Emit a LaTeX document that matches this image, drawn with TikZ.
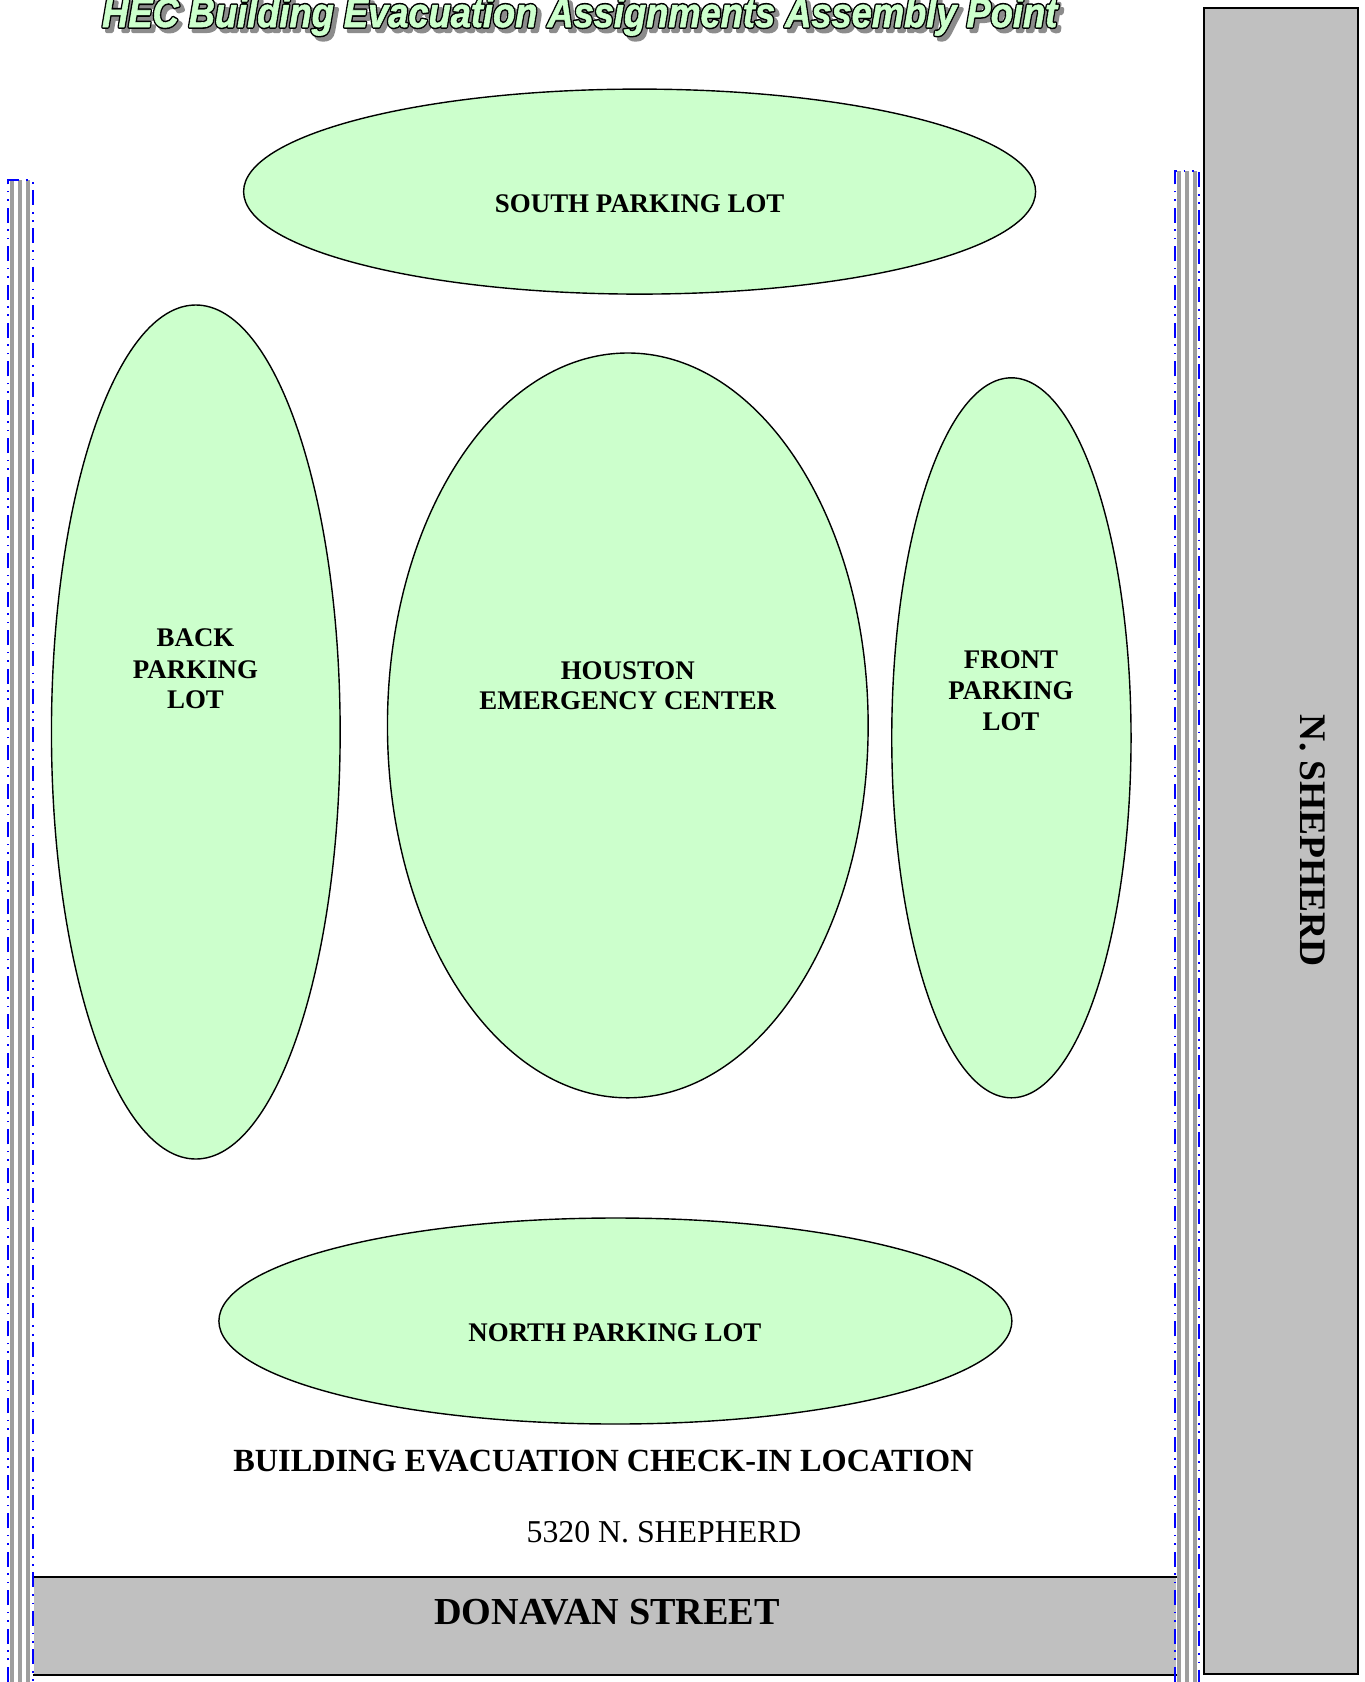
\documentclass[tikz,border=0pt]{standalone}
\usepackage{graphicx}
\usepackage{fontspec}
\setmainfont{Liberation Serif}
\newfontfamily\titlefont{Liberation Sans}
\usetikzlibrary{shapes.geometric}
\definecolor{lotgreen}{HTML}{CCFFCC}
\definecolor{roadgray}{HTML}{C0C0C0}
\definecolor{fencegray}{HTML}{9E9E9E}
\definecolor{shadowgray}{HTML}{8C8C8C}
% #1 = stroke width of the text outline (stroke colour = text colour)
\newcommand{\hectitletext}[1]{\resizebox{955pt}{30pt}{\titlefont\bfseries\itshape\fontsize{40pt}{40pt}\selectfont\special{pdf:literal direct 2 Tr #1 w 1 j}HEC Building Evacuation Assignments Assembly Point\special{pdf:literal direct 0 Tr}}}
\begin{document}
\begin{tikzpicture}[x=1pt,y=-1pt,
  lot/.style={ellipse, draw=black, line width=1.4pt, fill=lotgreen, inner sep=0pt},
  lotlabel/.style={anchor=base, inner sep=0pt, font=\bfseries\fontsize{26.9pt}{31pt}\selectfont},
  road/.style={rectangle, draw=black, line width=2pt, fill=roadgray, inner sep=0pt, anchor=north west},
  roadedge/.style={draw=black, line width=2pt},
  fenceblue/.style={draw=blue, line width=2pt, dash pattern=on 15pt off 7pt on 1.7pt off 6.7pt on 1.7pt off 6.3pt},
  fencerail/.style={draw=fencegray, line width=3.5pt},
  titlecopy/.style={anchor=base west, inner sep=0pt}]
\useasboundingbox (0,0) rectangle (1365,1682);
\fill[white] (0,0) rectangle (1365,1682);

% roads
\node[road, minimum width=154pt, minimum height=1666pt] (shepherd) at (1203,7) {};
\node[road, draw=none, minimum width=1142.3pt, minimum height=96pt] (donavan) at (32.7,1577) {};
\draw[roadedge] (donavan.north west) -- (donavan.north east);
\draw[roadedge] (donavan.south west) -- (donavan.south east);

% fences
\foreach \x [count=\i] in {12,20,28} \draw[fencerail] (\x,180) -- (\x,1682);
\draw[fenceblue] (8.3,1682) -- (8.3,180) -- (32.5,180) -- (32.5,1682);
\foreach \x [count=\i] in {1179,1187,1195} \draw[fencerail] (\x,171) -- (\x,1682);
\draw[fenceblue] (1175,1682) -- (1175,171) -- (1199,171) -- (1199,1682);

% parking lots and building
\node[lot, minimum width=792pt, minimum height=205pt] (south) at (639.6,191.6) {};
\node[lot, minimum width=288.7pt, minimum height=854pt] (back) at (195.8,732) {};
\node[lot, minimum width=480.7pt, minimum height=744.8pt] (hec) at (627.8,725.4) {};
\node[lot, minimum width=239.3pt, minimum height=720pt] (front) at (1011.4,737.8) {};
\node[lot, minimum width=793pt, minimum height=206pt] (north) at (615.4,1321) {};

% labels
\node[lotlabel] (southlbl) at (639.7,212.3) {SOUTH PARKING LOT};
\node[lotlabel] (backlbl1) at (195.5,646.7) {BACK};
\node[lotlabel] (backlbl2) at (195.5,678) {PARKING};
\node[lotlabel] (backlbl3) at (195.5,708.5) {LOT};
\node[lotlabel] (heclbl1) at (627.8,679.4) {HOUSTON};
\node[lotlabel] (heclbl2) at (627.8,709.4) {EMERGENCY CENTER};
\node[lotlabel] (frontlbl1) at (1011,668.5) {FRONT};
\node[lotlabel] (frontlbl2) at (1011,699.5) {PARKING};
\node[lotlabel] (frontlbl3) at (1011,730.5) {LOT};
\node[lotlabel] (northlbl) at (614.9,1341.5) {NORTH PARKING LOT};

\node[anchor=base, inner sep=0pt, font=\bfseries\fontsize{32.3pt}{36pt}\selectfont] (checkin) at (603.5,1471) {BUILDING EVACUATION CHECK-IN LOCATION};
\node[anchor=base, inner sep=0pt, font=\fontsize{31.8pt}{36pt}\selectfont] (address) at (664,1542) {5320 N. SHEPHERD};
\node[anchor=base, inner sep=0pt, font=\bfseries\fontsize{38.2pt}{42pt}\selectfont] (donavanlbl) at (607,1624) {DONAVAN STREET};
\node[anchor=base, inner sep=0pt, rotate=-90, font=\bfseries\fontsize{37.5pt}{42pt}\selectfont] (shepherdlbl) at (1300.7,841) {N. SHEPHERD};

% title: shadow, black outline, green fill on top
\node[titlecopy, text=shadowgray] (tshadow) at (106,31) {\hectitletext{4}};
\node[titlecopy, text=black] (toutline) at (102,27) {\hectitletext{3.6}};
\node[titlecopy, text=lotgreen] (title) at (102,27) {\hectitletext{0.6}};
\end{tikzpicture}
\end{document}
